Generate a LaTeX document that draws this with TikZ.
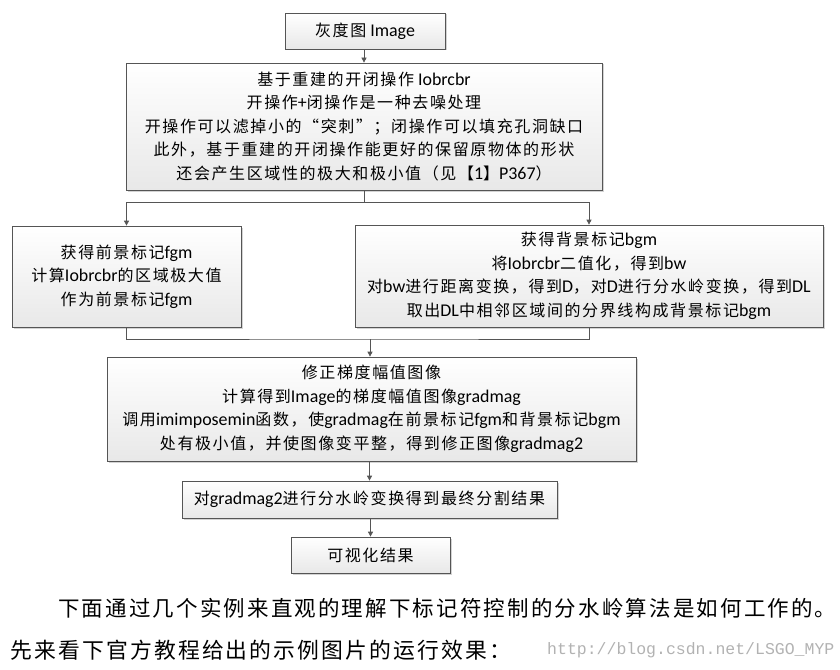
\documentclass[tikz,border=0pt]{standalone}
\usepackage{fontspec}
\usepackage{tikz}
\usetikzlibrary{arrows.meta, shadows}

\setmainfont[Scale=1.12]{Carlito}
\newfontfamily\latinfont[Scale=1.12]{Carlito}
\newfontfamily\cjkfont[LetterSpace=10]{Noto Sans CJK SC}
\newfontfamily\urlfont{Liberation Mono}

% switch to the CJK font on CJK characters
\XeTeXinterchartokenstate=1
\newXeTeXintercharclass\cjkclass
\newcount\cjkcnt
\def\cjkrange#1#2{\cjkcnt=#1
  \loop \XeTeXcharclass\cjkcnt=\cjkclass
  \ifnum\cjkcnt<#2 \advance\cjkcnt by 1 \repeat}
\cjkrange{"4E00}{"9FFF}
\cjkrange{"3000}{"303F}
\cjkrange{"FF00}{"FFEF}
\cjkrange{"201C}{"201D}
\XeTeXinterchartoks 0 \cjkclass = {\cjkfont}
\XeTeXinterchartoks 4095 \cjkclass = {\cjkfont}
\XeTeXinterchartoks \cjkclass 0 = {\latinfont}
\XeTeXinterchartoks \cjkclass 4095 = {\latinfont}

\definecolor{edgegray}{RGB}{85,85,85}

\tikzset{
  procbox/.style={draw=edgegray, line width=0.7pt, top color=white, bottom color=gray!18,
    drop shadow={shadow xshift=1.5pt, shadow yshift=-1.5pt, opacity=0.35, fill=gray},
    inner sep=0pt, align=center, font=\fontsize{16}{23.5}\selectfont},
  link/.style={draw=edgegray, line width=0.7pt},
  flow/.style={link, -{Triangle[width=5pt,length=5pt]}}
}

\begin{document}
\begin{tikzpicture}[x=1pt, y=-1pt]
  \useasboundingbox (0,0) rectangle (840,669);

  % Boxes
  \node[procbox, minimum width=160pt, minimum height=36pt] (img) at (365,31) {灰度图\ Image};
  \node[procbox, minimum width=476pt, minimum height=127pt] (recon) at (364,126.5)
    {基于重建的开闭操作 Iobrcbr\\开操作+闭操作是一种去噪处理\\开操作可以滤掉小的“突刺”；闭操作可以填充孔洞缺口\\此外，基于重建的开闭操作能更好的保留原物体的形状\\还会产生区域性的极大和极小值（见【1】P367）};
  \node[procbox, minimum width=229pt, minimum height=101pt] (fgm) at (126.5,276.5)
    {获得前景标记fgm\\计算Iobrcbr的区域极大值\\作为前景标记fgm};
  \node[procbox, minimum width=468pt, minimum height=102pt] (bgm) at (589,276)
    {获得背景标记bgm\\将Iobrcbr二值化，得到bw\\对bw进行距离变换，得到D，对D进行分水岭变换，得到DL\\取出DL中相邻区域间的分界线构成背景标记bgm};
  \node[procbox, minimum width=529pt, minimum height=104pt] (grad) at (371.5,409)
    {修正梯度幅值图像\\计算得到Image的梯度幅值图像gradmag\\调用imimposemin函数，使gradmag在前景标记fgm和背景标记bgm\\处有极小值，并使图像变平整，得到修正图像gradmag2};
  \node[procbox, minimum width=375pt, minimum height=37pt] (ws) at (369.5,499.5)
    {对gradmag2进行分水岭变换得到最终分割结果};
  \node[procbox, minimum width=159pt, minimum height=36pt] (vis) at (370.5,555)
    {可视化结果};

  % Connectors
  \coordinate (split) at (364,202);
  \coordinate (merge) at (370,339);
  \draw[flow] (img.south -| recon.north) -- (recon.north);
  \draw[link] (recon.south) -- (split);
  \draw[flow] (split) -| (fgm.north);
  \draw[flow] (split) -| (bgm.north);
  \draw[link] (fgm.south) |- (merge) -| (bgm.south);
  \draw[flow] (merge) -- (merge |- grad.north);
  \draw[flow] (ws.north |- grad.south) -- (ws.north);
  \draw[flow] (vis.north |- ws.south) -- (vis.north);

  % Text below
  \node[anchor=west, inner sep=0pt, font=\fontsize{21.5}{26}\selectfont] (line1) at (58,608)
    {下面通过几个实例来直观的理解下标记符控制的分水岭算法是如何工作的。};
  \node[anchor=west, inner sep=0pt, font=\fontsize{21.8}{26}\selectfont] (line2) at (10,650)
    {先来看下官方教程给出的示例图片的运行效果：};
  \node[anchor=west, inner sep=0pt, text=gray!60, font=\urlfont\fontsize{16.5}{20}\selectfont] (mark) at (547,650)
    {http://blog.csdn.net/LSGO\_MYP};
\end{tikzpicture}
\end{document}
